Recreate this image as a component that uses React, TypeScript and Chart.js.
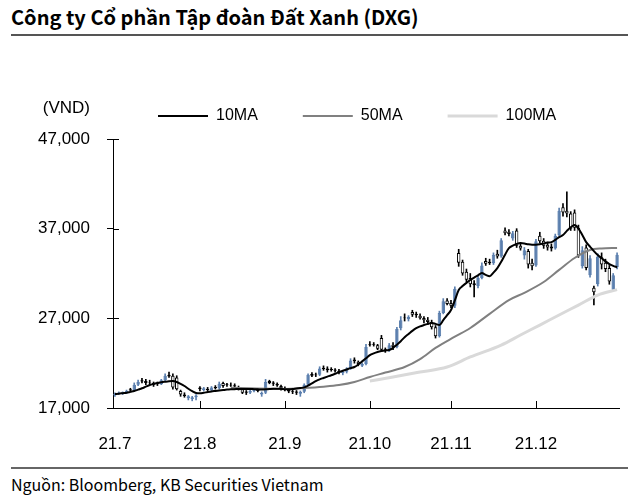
import React, { useEffect, useRef } from 'react';
import { Chart, registerables } from 'chart.js';
Chart.register(...registerables);

const FONT = '"Noto Sans CJK KR", "Noto Sans", sans-serif';
const AXIS_FONT = '"Liberation Sans", Arial, sans-serif';

const monthLabels = ['21.7', '21.8', '21.9', '21.10', '21.11', '21.12'];
const monthTradingDays = [22, 22, 22, 21, 22, 22];

const openPrices = [
  18400, 18600, 18600, 18750, 19100, 18950, 19600, 20100, 20000, 19900,
  19800, 19750, 19650, 20100, 20700, 20600, 20400, 18900, 18500, 18100,
  18000, 18200, 19300, 19000, 19150, 19000, 19350, 19200, 19800, 19650,
  19600, 19550, 19350, 19100, 18850, 18700, 18900, 19100, 18500, 18700,
  20000, 19850, 19700, 19450, 19250, 19050, 18900, 18850, 18600, 18800,
  19600, 20800, 20750, 20700, 21500, 21400, 21350, 21300, 21150, 20900,
  21050, 21400, 22400, 22150, 21700, 21900, 24100, 24150, 24000, 24800,
  23550, 23400, 24050, 23800, 25900, 27100, 26900, 27700, 27500, 27300,
  27050, 26850, 26600, 26000, 25000, 27600, 29000, 28700, 28400, 34300,
  33300, 32200, 31500, 30900, 30600, 31500, 33400, 33300, 33150, 34200,
  33900, 36800, 36650, 35900, 36800, 35100, 34000, 34500, 33200, 32900,
  36200, 35650, 35200, 35000, 34800, 36300, 39400, 39000, 38700, 38800,
  37100, 32800, 34900, 31800, 30400, 30800, 33800, 33200, 32600, 30200,
  32700,
];
const highPrices = [
  18700, 18800, 18800, 19000, 19200, 19800, 20100, 20300, 20200, 20100,
  19900, 19900, 20200, 20800, 21000, 20800, 20600, 19000, 18700, 18400,
  18300, 18500, 19400, 19300, 19300, 19400, 19500, 19900, 19900, 19750,
  19800, 19700, 19450, 19200, 18950, 19000, 19200, 19200, 18800, 20200,
  20100, 19950, 19800, 19550, 19350, 19150, 19000, 18950, 18900, 19700,
  20800, 20950, 20900, 21600, 21700, 21600, 21500, 21400, 21300, 21100,
  21500, 22500, 22600, 22250, 22000, 24100, 24400, 24300, 24100, 25100,
  23700, 24200, 24300, 26000, 27200, 27500, 27300, 27900, 27700, 27500,
  27200, 27100, 26800, 26200, 27800, 29200, 29200, 29000, 30500, 34700,
  33500, 32500, 32000, 31200, 31700, 33200, 33700, 33600, 34300, 34600,
  35900, 37100, 36900, 36700, 37000, 35400, 34900, 34700, 33600, 35800,
  36600, 35900, 35500, 35300, 36400, 39300, 39800, 41100, 38900, 39100,
  37400, 35000, 35200, 34000, 30600, 34200, 34300, 33600, 32900, 32000,
  34300,
];
const lowPrices = [
  18300, 18500, 18500, 18600, 18800, 18900, 19500, 19800, 19600, 19700,
  19400, 19500, 19600, 20000, 20400, 19100, 19000, 18300, 18200, 17900,
  17800, 17900, 18900, 18900, 18900, 18900, 19100, 19100, 19300, 19400,
  19400, 19200, 19000, 18600, 18500, 18600, 18800, 18800, 18300, 18600,
  19700, 19500, 19400, 19000, 18900, 18700, 18600, 18500, 18300, 18700,
  19500, 20500, 20500, 20600, 21200, 21000, 21100, 21000, 20800, 20700,
  20900, 21300, 22000, 21700, 21600, 21800, 23900, 23900, 23500, 23300,
  23200, 23300, 23500, 23700, 25700, 26700, 26700, 27200, 27100, 26900,
  26500, 26300, 25800, 24800, 24900, 27500, 28500, 28200, 28200, 32800,
  31800, 31000, 30500, 29400, 30400, 31400, 32900, 33000, 33000, 33700,
  33800, 36300, 36200, 35700, 34900, 34600, 33600, 32600, 32400, 32800,
  35400, 34800, 34600, 34500, 34700, 36200, 38400, 38300, 36800, 36800,
  33800, 32600, 32400, 31600, 28500, 30600, 32500, 32200, 30800, 30000,
  32500,
];
const closePrices = [
  18600, 18700, 18750, 18900, 18950, 19600, 19900, 19950, 19800, 19850,
  19600, 19650, 20100, 20600, 20500, 19300, 19100, 18500, 18350, 18300,
  18200, 18400, 19100, 19200, 19000, 19300, 19200, 19700, 19450, 19550,
  19500, 19400, 19200, 18700, 18700, 18900, 19100, 18900, 18700, 19900,
  19800, 19700, 19500, 19200, 19000, 18850, 18800, 18700, 18800, 19600,
  20700, 20600, 20650, 21400, 21350, 21200, 21250, 21150, 21000, 21050,
  21400, 22300, 22200, 21900, 21900, 23800, 24000, 24050, 23600, 23500,
  23400, 24000, 23800, 25800, 26800, 27000, 27150, 27400, 27350, 27000,
  26800, 26600, 26000, 25000, 27600, 28900, 28600, 28400, 30300, 33200,
  32000, 31300, 30800, 30700, 31500, 32900, 33100, 33150, 34100, 33900,
  35700, 36500, 36400, 36500, 35100, 34800, 34600, 33000, 32800, 35600,
  35600, 35100, 34900, 34800, 36200, 39000, 38800, 38700, 37000, 37100,
  34000, 34600, 32600, 33700, 29900, 33900, 33000, 32500, 31100, 31800,
  34100,
];

const ma10Values = [
  18560, 18600, 18650, 18700, 18800, 18900, 19050, 19200, 19380, 19560,
  19680, 19780, 19870, 19930, 19980, 20000, 19900, 19700, 19450, 19150,
  18880, 18670, 18640, 18700, 18780, 18850, 18900, 18950, 19000, 19050,
  19080, 19100, 19120, 19120, 19120, 19120, 19100, 19080, 19060, 19080,
  19120, 19150, 19150, 19120, 19100, 19100, 19120, 19180, 19230, 19300,
  19500, 19750, 20000, 20200, 20350, 20500, 20650, 20820, 21000, 21150,
  21300, 21450, 21570, 21850, 22200, 22550, 22900, 23100, 23250, 23350,
  23420, 23470, 23700, 24050, 24450, 24900, 25250, 25600, 25900, 26100,
  26250, 26380, 26480, 26380, 26250, 26800, 27350, 27930, 29000, 30160,
  30600, 30950, 31270, 31550, 31800, 32050, 31850, 31700, 32100, 32600,
  33300, 34100, 34840, 35100, 35300, 35400, 35350, 35250, 35200, 35200,
  35250, 35350, 35450, 35500, 35750, 36050, 36300, 36750, 37150, 37400,
  37000, 36300, 35500, 35000, 34500, 34060, 33700, 33350, 33050, 32850,
  32700,
];

// [trading-day index, value]
const ma50Points = [
  [30, 19250], [35, 19200], [40, 19150], [44, 19130], [49, 19230], [54, 19380],
  [58, 19560], [62, 19900], [66, 20460], [70, 20950], [75, 21570], [79, 22450],
  [83, 23700], [88, 24950], [92, 25920], [97, 27500], [102, 29040], [106, 29850],
  [111, 31050], [115, 32400], [119, 33730], [123, 34620], [126, 34800], [130, 34850],
];
const ma100Points = [
  [66, 20010], [72, 20460], [79, 21010], [86, 21570], [92, 22690], [100, 24020],
  [105, 25140], [110, 26250], [115, 27370], [120, 28480], [125, 29600], [130, 30200],
];

const yTicks = [17000, 27000, 37000, 47000];

const UP = '#5B7FAE';
const DOWN_FILL = '#ffffff';
const DOWN_LINE = '#000000';

const dayLabels: string[] = [];
const monthStartLabel: Record<number, string> = {};
monthLabels.forEach((m, mi) => {
  monthStartLabel[dayLabels.length] = m;
  for (let d = 1; d <= monthTradingDays[mi]; d++) dayLabels.push(`${m}-${d}`);
});

const isUp = (i: number) => closePrices[i] >= openPrices[i];

const extraDraw = {
  id: 'extraDraw',
  afterInit(chart: any) {
    const lg = chart.legend;
    if (lg && !lg.__patched) {
      const f = lg.fit.bind(lg);
      lg.fit = () => {
        f();
        lg.height += 5;
      };
      lg.__patched = true;
    }
  },
  afterDraw(chart: any) {
    const { ctx, chartArea, scales } = chart;
    const y = scales.y;
    const x = scales.x;
    ctx.save();
    ctx.strokeStyle = '#000';
    ctx.lineWidth = 1;
    ctx.beginPath();
    yTicks.forEach((v) => {
      const py = Math.round(y.getPixelForValue(v)) + 0.5;
      ctx.moveTo(chartArea.left, py);
      ctx.lineTo(chartArea.left + 6, py);
    });
    Object.keys(monthStartLabel).forEach((k) => {
      const idx = Number(k);
      if (idx === 0) return;
      const px = Math.round(x.getPixelForValue(idx)) + 0.5;
      ctx.moveTo(px, chartArea.bottom);
      ctx.lineTo(px, chartArea.bottom - 7);
    });
    ctx.stroke();
    ctx.fillStyle = '#000';
    ctx.font = `17px ${AXIS_FONT}`;
    ctx.textAlign = 'right';
    ctx.textBaseline = 'middle';
    ctx.fillText('(VND)', chartArea.left - 23, chartArea.top - 31);
    ctx.restore();
  },
};

function CandleChart() {
  const ref = useRef<HTMLCanvasElement>(null);
  useEffect(() => {
    if (!ref.current) return;
    const toPts = (arr: number[][]) => arr.map(([i, v]) => ({ x: dayLabels[i], y: v }));
    const chart = new Chart(ref.current, {
      type: 'bar',
      data: {
        labels: dayLabels,
        datasets: [
          {
            type: 'line',
            label: '10MA',
            data: ma10Values,
            borderColor: '#000000',
            backgroundColor: '#000000',
            borderWidth: 2,
            pointRadius: 0,
            pointStyle: 'line',
            cubicInterpolationMode: 'monotone',
            order: 0,
          } as any,
          {
            type: 'line',
            label: '50MA',
            data: toPts(ma50Points),
            borderColor: '#808080',
            backgroundColor: '#808080',
            borderWidth: 2,
            pointRadius: 0,
            pointStyle: 'line',
            spanGaps: true,
            cubicInterpolationMode: 'monotone',
            order: 0,
          } as any,
          {
            type: 'line',
            label: '100MA',
            data: toPts(ma100Points),
            borderColor: '#d9d9d9',
            backgroundColor: '#d9d9d9',
            borderWidth: 3,
            pointRadius: 0,
            pointStyle: 'line',
            spanGaps: true,
            cubicInterpolationMode: 'monotone',
            order: 0,
          } as any,
          {
            type: 'bar',
            label: 'body',
            data: openPrices.map((o, i) => [o, closePrices[i]]),
            backgroundColor: openPrices.map((_, i) => (isUp(i) ? UP : DOWN_FILL)),
            borderColor: openPrices.map((_, i) => (isUp(i) ? UP : DOWN_LINE)),
            borderWidth: 1,
            borderSkipped: false,
            barPercentage: 0.9,
            categoryPercentage: 1,
            grouped: false,
            order: 1,
          } as any,
          {
            type: 'bar',
            label: 'wick',
            data: lowPrices.map((l, i) => [l, highPrices[i]]),
            backgroundColor: lowPrices.map((_, i) => (isUp(i) ? UP : DOWN_LINE)),
            barThickness: 1,
            grouped: false,
            order: 2,
          } as any,
        ],
      },
      options: {
        responsive: false,
        animation: false,
        layout: { padding: { left: 0, right: 21, top: 0, bottom: 0 } },
        plugins: {
          tooltip: { enabled: false },
          legend: {
            display: true,
            position: 'top',
            align: 'start',
            fullSize: false,
            labels: {
              usePointStyle: true,
              pointStyleWidth: 50,
              color: '#000',
              font: { size: 16, family: AXIS_FONT },
              padding: 45,
              filter: (item: any) => item.datasetIndex < 3,
            },
          },
        },
        scales: {
          x: {
            type: 'category',
            offset: true,
            grid: { display: false },
            border: { display: true, color: '#000', width: 1 },
            ticks: {
              autoSkip: false,
              maxRotation: 0,
              minRotation: 0,
              padding: 18,
              color: '#000',
              font: { size: 17, family: AXIS_FONT },
              callback: (_v: any, index: number) =>
                monthStartLabel[index] !== undefined ? monthStartLabel[index] : null,
            },
            afterFit: (s: any) => {
              s.height = 49;
            },
          },
          y: {
            min: 17000,
            max: 47000,
            afterBuildTicks: (s: any) => {
              s.ticks = yTicks.map((v) => ({ value: v }));
            },
            grid: { display: true, drawOnChartArea: false, drawTicks: true, tickLength: 6, color: '#000' },
            border: { display: true, color: '#000', width: 1 },
            ticks: {
              padding: 17,
              color: '#000',
              font: { size: 17, family: AXIS_FONT },
              callback: (v: any) => Number(v).toLocaleString('en-US'),
            },
            afterFit: (s: any) => {
              s.width = 113;
            },
          },
        },
      },
      plugins: [extraDraw],
    });
    return () => chart.destroy();
  }, []);
  return <canvas ref={ref} width={640} height={394} style={{ display: 'block' }} />;
}

export default function App() {
  return (
    <div
      style={{
        position: 'absolute',
        left: 0,
        top: 0,
        width: 640,
        height: 499,
        background: '#fff',
        fontFamily: FONT,
        color: '#000',
        overflow: 'hidden',
      }}
    >
      <div
        style={{
          position: 'absolute',
          left: 11,
          top: 2,
          fontSize: 20,
          fontWeight: 700,
          lineHeight: '30px',
          whiteSpace: 'nowrap',
        }}
      >
        Công ty Cổ phần Tập đoàn Đất Xanh (DXG)
      </div>
      <div style={{ position: 'absolute', left: 11, top: 34, width: 617, height: 2, background: '#555' }} />
      <div style={{ position: 'absolute', left: 0, top: 63, width: 640, height: 394 }}>
        <CandleChart />
      </div>
      <div style={{ position: 'absolute', left: 11, top: 467, width: 617, height: 2, background: '#666' }} />
      <div
        style={{
          position: 'absolute',
          left: 11,
          top: 472,
          fontSize: 16,
          lineHeight: '24px',
          whiteSpace: 'nowrap',
        }}
      >
        Nguồn: Bloomberg, KB Securities Vietnam
      </div>
    </div>
  );
}
